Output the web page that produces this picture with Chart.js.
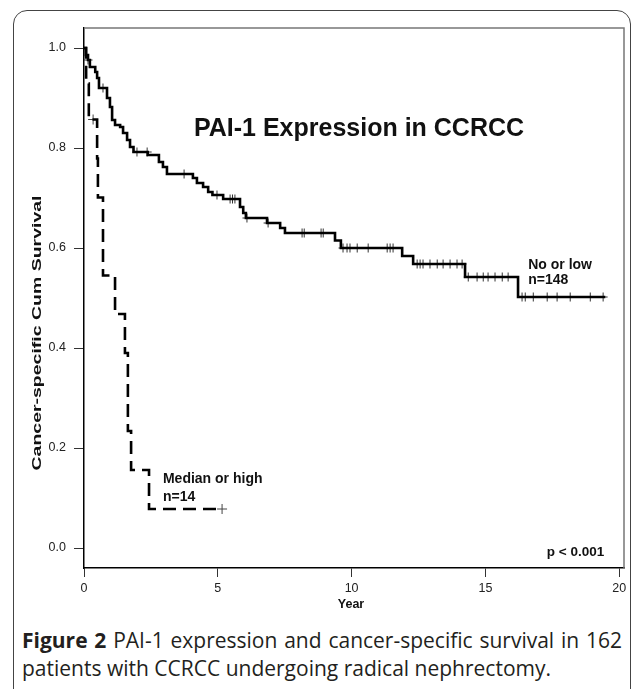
<!DOCTYPE html>
<html>
<head>
<meta charset="utf-8">
<script src="https://cdn.jsdelivr.net/npm/chart.js@4.4.1/dist/chart.umd.min.js"></script>
<style>
    html, body { margin: 0; padding: 0; background: #fff; }
    body { width: 633px; height: 689px; position: relative; overflow: hidden; }
    #frame {
        position: absolute; left: 13px; top: 10px; width: 616px; height: 720px;
        border: 1px solid #444; border-radius: 14px;
    }
    #chartBox { position: absolute; left: 0; top: 0; width: 633px; height: 620px; }
    .cap {
        position: absolute; left: 22px; width: 600px;
        font-family: "Open Sans", sans-serif; font-size: 21px; line-height: 28px;
        color: #231f20; white-space: nowrap;
    }
    #cap1 { top: 626px; text-align: justify; text-align-last: justify; }
    #cap2 { top: 654px; text-align: left; }
</style>
</head>
<body>
<div id="frame"></div>
<div id="chartBox"><canvas id="myChart" width="633" height="620"></canvas></div>
<div class="cap" id="cap1"><b>Figure 2</b> PAI-1 expression and cancer-specific survival in 162</div>
<div class="cap" id="cap2">patients with CCRCC undergoing radical nephrectomy.</div>
<script>
// No or low PAI-1 (n=148): event times (years) and survival after each step
const lowTimes = [0, 0.07, 0.15, 0.22, 0.42, 0.49, 0.56, 0.86, 0.97, 1.05, 1.16, 1.35, 1.46, 1.61, 1.72, 1.85,
    2.38, 2.8, 2.95, 3.1, 4.07, 4.22, 4.45, 4.64, 4.8, 5.2, 5.83, 5.95, 6.05, 6.84, 7.33, 7.51, 9.38, 9.6,
    11.89, 12.3, 14.24, 16.22, 19.48];
const lowSurv = [1, 0.986, 0.976, 0.962, 0.952, 0.94, 0.92, 0.9, 0.882, 0.856, 0.846, 0.842, 0.83, 0.816, 0.802, 0.792,
    0.786, 0.772, 0.762, 0.748, 0.74, 0.73, 0.722, 0.712, 0.706, 0.698, 0.682, 0.67, 0.66, 0.65, 0.64, 0.63, 0.615, 0.6,
    0.584, 0.568, 0.542, 0.502, 0.502];
const lowCensored = [0.15, 0.71, 1.98, 2.36, 3.74, 4.97, 5.46, 5.55, 5.64, 6.09, 6.88, 8.15, 8.23, 8.86, 8.94,
    9.68, 9.83, 9.94, 10.21, 10.62, 11.33, 11.44, 11.55,
    12.45, 12.56, 12.67, 12.93, 13.2, 13.42, 13.68, 13.94, 14.13,
    14.36, 14.69, 14.92, 15.1, 15.36, 15.63, 15.85,
    16.37, 16.49, 16.79, 17.31, 17.68, 18.17, 18.92, 19.4];

// Median or high PAI-1 (n=14)
const highTimes = [0, 0.08, 0.18, 0.49, 0.52, 0.71, 1.16, 1.53, 1.64, 1.76, 2.43, 5.16];
const highSurv = [1, 0.929, 0.857, 0.779, 0.701, 0.545, 0.468, 0.39, 0.234, 0.156, 0.078, 0.078];
const highCensored = [0.34, 5.16];

const xTicks = [0, 5, 10, 15, 20];
const yTicks = [0, 0.2, 0.4, 0.6, 0.8, 1.0];

function survAt(times, surv, t) {
    let s = surv[0];
    for (let i = 0; i < times.length; i++) {
        if (times[i] <= t) s = surv[i];
    }
    return s;
}

const fontFam = "'Liberation Sans', Arial, sans-serif";

const extras = {
    id: "extras",
    beforeDatasetsDraw(chart) {
        const { ctx, chartArea: a } = chart;
        ctx.save();
        ctx.strokeStyle = "#777";
        ctx.lineWidth = 1.5;
        ctx.beginPath();
        ctx.moveTo(a.left, a.top);
        ctx.lineTo(a.right, a.top);
        ctx.lineTo(a.right, a.bottom);
        ctx.stroke();
        ctx.restore();
    },
    afterDraw(chart) {
        const { ctx } = chart;
        const x = chart.scales.x;
        const y = chart.scales.y;
        ctx.save();
        ctx.fillStyle = "#111";

        // title
        ctx.font = "bold 25px " + fontFam;
        ctx.textAlign = "center";
        ctx.textBaseline = "middle";
        ctx.fillText("PAI-1 Expression in CCRCC", 359, 129);

        // group labels
        ctx.font = "bold 14px " + fontFam;
        ctx.textAlign = "left";
        ctx.textBaseline = "alphabetic";
        ctx.fillText("No or low", x.getPixelForValue(16.6), y.getPixelForValue(0.558));
        ctx.fillText("n=148", x.getPixelForValue(16.6), y.getPixelForValue(0.528));
        ctx.fillText("Median or high", x.getPixelForValue(2.95), y.getPixelForValue(0.13));
        ctx.fillText("n=14", x.getPixelForValue(2.95), y.getPixelForValue(0.094));

        ctx.font = "bold 13.5px " + fontFam;
        ctx.textAlign = "right";
        ctx.fillText("p < 0.001", x.getPixelForValue(19.44), y.getPixelForValue(-0.016));

        // axis titles
        ctx.font = "bold 12.5px " + fontFam;
        ctx.textAlign = "center";
        ctx.textBaseline = "middle";
        ctx.fillText("Year", 351, 605);

        ctx.font = "bold 13px " + fontFam;
        const yTitle = "Cancer-specific Cum Survival";
        const stretch = 275 / ctx.measureText(yTitle).width;
        ctx.translate(37, 333);
        ctx.rotate(-Math.PI / 2);
        ctx.scale(stretch, 1);
        ctx.fillText(yTitle, 0, 0);
        ctx.restore();
    }
};

const ctx = document.getElementById("myChart").getContext("2d");

const data = {
    datasets: [
        {
            label: "No or low",
            data: lowTimes.map((t, i) => ({ x: t, y: lowSurv[i] })),
            stepped: "before",
            borderColor: "#000",
            borderWidth: 2.6,
            pointRadius: 0,
            fill: false,
        },
        {
            label: "Median or high",
            data: highTimes.map((t, i) => ({ x: t, y: highSurv[i] })),
            stepped: "before",
            borderColor: "#000",
            borderWidth: 2.6,
            borderDash: [13, 7],
            pointRadius: 0,
            fill: false,
        },
        {
            label: "censored low",
            data: lowCensored.map((t) => ({ x: t, y: survAt(lowTimes, lowSurv, t) })),
            showLine: false,
            pointStyle: "cross",
            pointRadius: 4.5,
            pointBorderWidth: 1,
            pointBorderColor: "#333",
        },
        {
            label: "censored high",
            data: highCensored.map((t) => ({ x: t, y: survAt(highTimes, highSurv, t) })),
            showLine: false,
            pointStyle: "cross",
            pointRadius: 5,
            pointBorderWidth: 1,
            pointBorderColor: "#444",
        },
    ],
};

const config = {
    type: "line",
    data: data,
    plugins: [extras],
    options: {
        responsive: false,
        animation: false,
        devicePixelRatio: 1,
        layout: { padding: { left: 0, top: 28, right: 9, bottom: 0 } },
        plugins: {
            legend: { display: false },
            tooltip: { enabled: false },
        },
        scales: {
            x: {
                type: "linear",
                min: 0,
                max: 20.18,
                afterFit: (s) => { s.height = 52; },
                afterBuildTicks: (s) => { s.ticks = xTicks.map((v) => ({ value: v })); },
                grid: { drawOnChartArea: false, tickLength: 9, color: "#333" },
                border: { color: "#000", width: 1.5 },
                ticks: {
                    color: "#222",
                    padding: 4,
                    maxRotation: 0,
                    font: { family: fontFam, size: 12.5 },
                    callback: (v) => String(v),
                },
            },
            y: {
                type: "linear",
                min: -0.04,
                max: 1.04,
                afterFit: (s) => { s.width = 84; },
                afterBuildTicks: (s) => { s.ticks = yTicks.map((v) => ({ value: v })); },
                grid: { drawOnChartArea: false, tickLength: 10, color: "#333" },
                border: { color: "#000", width: 1.5 },
                ticks: {
                    color: "#222",
                    padding: 8,
                    font: { family: fontFam, size: 12.5 },
                    callback: (v) => v.toFixed(1),
                },
            },
        },
    },
};

const chart = new Chart(ctx, config);
</script>
</body>
</html>
